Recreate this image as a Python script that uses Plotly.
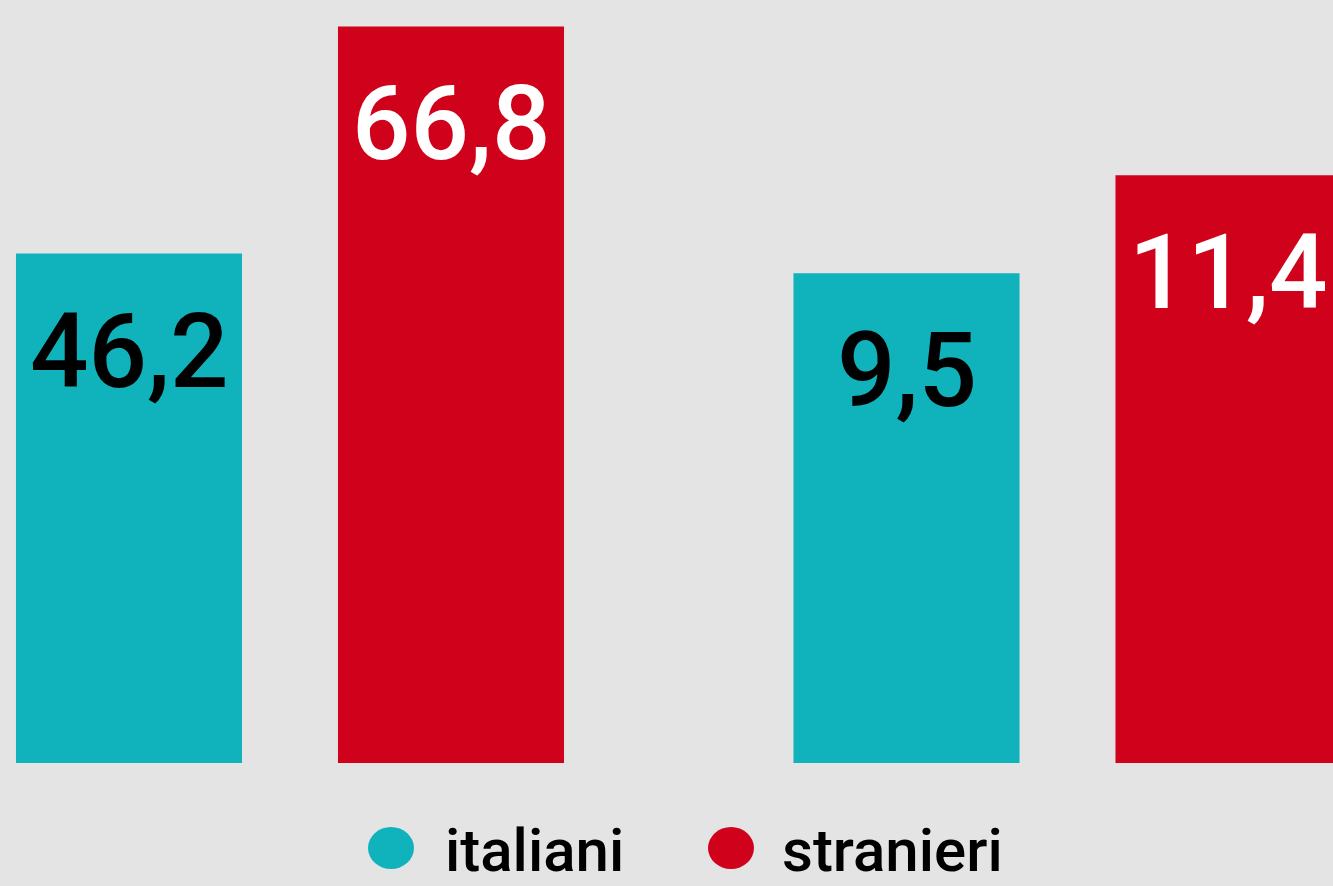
import plotly.graph_objects as go

# ---- data ----
series = ["italiani", "stranieri"]
italiani = [46.2, 9.5]
stranieri = [66.8, 11.4]
values = {"italiani": italiani, "stranieri": stranieri}

# ---- styles ----
colors = {"italiani": "#10B3BB", "stranieri": "#D0021B"}
label_colors = {"italiani": "#000000", "stranieri": "#FFFFFF"}
BG = "#E4E4E4"
FONT = "Roboto, DejaVu Sans Condensed, sans-serif"

fig = go.Figure()
axes = [("x", "y"), ("x2", "y2")]
annotations = []
for g, (xa, ya) in enumerate(axes):
    for s in series:
        v = values[s][g]
        fig.add_trace(go.Bar(
            x=[s], y=[v], name=s, xaxis=xa, yaxis=ya,
            marker=dict(color=colors[s], line=dict(width=0)),
            width=0.702, showlegend=False, hoverinfo="skip",
        ))
        annotations.append(dict(
            x=s, y=v, xref=xa, yref=ya, text=f"{v:.1f}".replace(".", ","),
            showarrow=False, yanchor="top", xanchor="center", yshift=-35,
            font=dict(family=FONT, size=103, color=label_colors[s], weight=500),
        ))

# legend drawn as text + dots below the chart
leg = [("italiani", 391, 443), ("stranieri", 731, 780)]
shapes = []
for s, cx, tx in leg:
    shapes.append(dict(type="circle", xref="paper", yref="paper",
                       x0=(cx - 23) / 1333, x1=(cx + 23) / 1333,
                       y0=-(848 + 21 - 763) / 763, y1=-(848 - 21 - 763) / 763,
                       fillcolor=colors[s], line=dict(width=0)))
    annotations.append(dict(x=tx / 1333, y=-(850 - 763) / 763, xref="paper", yref="paper",
                            text=s, showarrow=False, xanchor="left", yanchor="middle",
                            font=dict(family=FONT, size=60, color="#000000", weight=500)))

split = 678.5 / 1333
fig.update_layout(
    width=1333, height=886,
    margin=dict(l=0, r=0, t=0, b=123),
    paper_bgcolor=BG, plot_bgcolor=BG,
    barmode="overlay",
    xaxis=dict(domain=[0, split], range=[-129 / 322, (678.5 - 129) / 322],
               visible=False, type="category"),
    xaxis2=dict(domain=[split, 1], range=[(678.5 - 906.5) / 322, (1333 - 906.5) / 322],
                visible=False, type="category", anchor="y2"),
    yaxis=dict(range=[0, 69.2], visible=False),
    yaxis2=dict(range=[0, 14.8], visible=False, anchor="x2"),
    annotations=annotations, shapes=shapes,
    showlegend=False,
)

fig.write_html("out.html")
